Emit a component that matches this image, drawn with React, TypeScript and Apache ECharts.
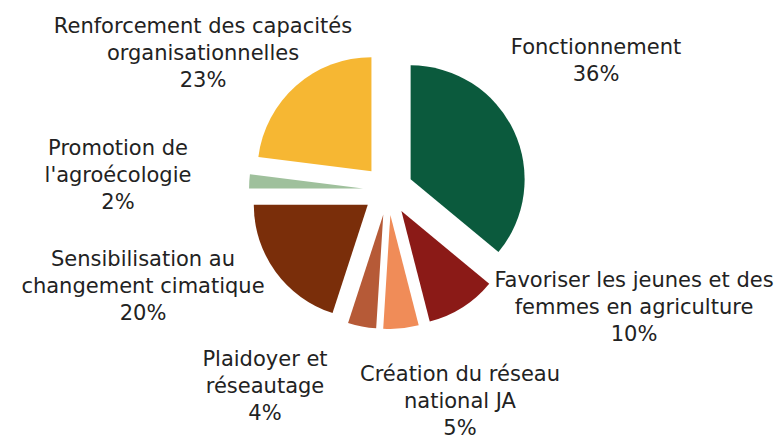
import React, { useEffect, useRef } from "react";
import * as echarts from "echarts";

const categories = [
  "Fonctionnement",
  "Favoriser les jeunes et des\nfemmes en agriculture",
  "Création du réseau\nnational JA",
  "Plaidoyer et\nréseautage",
  "Sensibilisation au\nchangement cimatique",
  "Promotion de\nl'agroécologie",
  "Renforcement des capacités\norganisationnelles",
];
const values = [36, 10, 5, 4, 20, 2, 23];
const colors = ["#0b5a3d", "#8b1a17", "#f08c58", "#b65a37", "#7a2e0a", "#9fc09c", "#f6b733"];
// label anchor points (centre of each label block)
const labelPos: [number, number][] = [
  [596, 60],
  [634, 307],
  [460, 401],
  [265, 386],
  [143, 286],
  [118, 175],
  [203, 53],
];

export default function App() {
  const ref = useRef<HTMLDivElement>(null);
  useEffect(() => {
    document.body.style.margin = "0";
    const chart = echarts.init(ref.current!, null, { renderer: "svg" });
    const common = {
      type: "pie",
      center: [388, 190],
      radius: [0, 114],
      startAngle: 90,
      clockwise: true,
      avoidLabelOverlap: false,
    };
    chart.setOption({
      animation: false,
      backgroundColor: "#ffffff",
      series: [
        {
          ...common,
          selectedMode: "multiple",
          selectedOffset: 25,
          data: categories.map((c, i) => ({
            name: c,
            value: values[i],
            selected: true,
            itemStyle: { color: colors[i] },
          })),
          label: { show: false },
          labelLine: { show: false },
        },
        {
          ...common,
          silent: true,
          selectedMode: false,
          z: 3,
          data: categories.map((c, i) => ({
            name: c,
            value: values[i],
          })),
          itemStyle: { color: "rgba(0,0,0,0)" },
          label: {
            show: true,
            position: "outside",
            formatter: (p: any) => `${p.name}\n${p.value}%`,
            fontFamily: "DejaVu Sans",
            fontSize: 21,
            lineHeight: 27,
            color: "#222222",
            align: "center",
          },
          labelLine: { show: false },
          labelLayout: (p: any) => ({
            x: labelPos[p.dataIndex][0],
            y: labelPos[p.dataIndex][1],
            align: "center",
            verticalAlign: "middle",
          }),
        },
      ],
    });
    return () => chart.dispose();
  }, []);
  return <div ref={ref} style={{ width: 780, height: 443 }} />;
}
